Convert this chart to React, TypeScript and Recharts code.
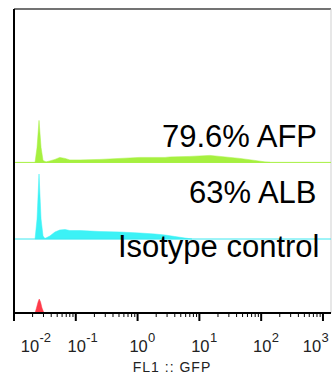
import React from 'react';
import { ComposedChart, Area, XAxis, YAxis, ReferenceLine } from 'recharts';

// FL1 :: GFP histograms, staggered overlay (bottom → top)
const ISO_X = [0.0219, 0.0231, 0.0245, 0.0256, 0.0269, 0.0284, 0.0306];
const ISO_COUNTS = [0, 5, 11, 14, 11, 5, 0];

const ALB_X = [
  0.0219, 0.0236, 0.0254, 0.0274, 0.0295, 0.0317, 0.038, 0.046, 0.055, 0.067, 0.08,
  0.117, 0.17, 0.246, 0.52, 1.09, 1.91, 2.78, 4.03, 5.85, 7.6,
];
const ALB_COUNTS = [0, 20, 65, 20, 3, 0.5, 3, 7, 9, 9.5, 8.5, 8.5, 8, 7.5, 7, 6, 5, 4, 2.5, 1, 0];

const AFP_X = [
  0.0219, 0.0236, 0.0254, 0.0274, 0.0295, 0.033, 0.038, 0.046, 0.055, 0.067, 0.08,
  0.117, 0.246, 0.52, 1.09, 1.59, 2.78, 3.34, 7.0, 14.8, 26, 45, 79, 115, 139,
];
const AFP_COUNTS = [
  0, 15, 42, 15, 2, 0.5, 1.5, 3, 5, 4, 2.5, 2.5, 3, 4, 5, 5, 5, 5.5, 6, 7, 5.5, 4, 2, 0.5, 0,
];

const MAJOR_TICKS = [0.01, 0.1, 1, 10, 100, 1000];
const MAJOR_LABELS = ['-2', '-1', '0', '1', '2', '3'];
const MINOR_STEPS = [2, 3, 4, 5, 6, 7, 8, 9];

const LABELS = ['79.6% AFP', '63% ALB', 'Isotype control'];
const X_TITLE = 'FL1 :: GFP';

const ISO_BASE = 0;
const ALB_BASE = 74;
const AFP_BASE = 150.6;

const ALL_TICKS = [
  ...MAJOR_TICKS,
  ...MAJOR_TICKS.slice(0, -1).flatMap((m) => MINOR_STEPS.map((s) => +(m * s).toPrecision(3))),
].sort((a, b) => a - b);

const build = (xs: number[], counts: number[], base: number) =>
  xs.map((x, i) => ({ x, band: [base, base + counts[i]] }));

const isoData = build(ISO_X, ISO_COUNTS, ISO_BASE);
const albData = build(ALB_X, ALB_COUNTS, ALB_BASE);
const afpData = build(AFP_X, AFP_COUNTS, AFP_BASE);

const FONT = '"Liberation Sans", Arial, sans-serif';

const AxisTick = (props: any) => {
  const { x, y, payload } = props;
  const idx = MAJOR_TICKS.indexOf(payload.value);
  if (idx < 0) {
    return <line x1={x} x2={x} y1={y} y2={y + 4} stroke="#000" strokeWidth={1} />;
  }
  const cx = Math.min(Math.max(x + 1, 30), 312);
  return (
    <g>
      <line x1={x} x2={x} y1={y} y2={y + 8} stroke="#000" strokeWidth={2} />
      <text x={cx} y={y + 39} textAnchor="middle" fontSize={16.5} fill="#222" fontFamily={FONT}>
        10
      </text>
      <text x={cx + 9.5} y={y + 29} textAnchor="start" fontSize={13} fill="#222" fontFamily={FONT}>
        {MAJOR_LABELS[idx]}
      </text>
    </g>
  );
};

export default function App() {
  return (
    <div style={{ position: 'absolute', left: 0, top: 0, width: 332, height: 379, background: '#fff' }}>
      <ComposedChart width={332} height={379} margin={{ top: 9, right: 1, left: 14, bottom: 6 }}>
        <XAxis
          dataKey="x"
          type="number"
          scale="log"
          domain={[0.01, 1349]}
          allowDataOverflow
          ticks={ALL_TICKS}
          interval={0}
          tickSize={0}
          tickMargin={0}
          tickLine={false}
          axisLine={{ stroke: '#000', strokeWidth: 2 }}
          tick={(p: any) => <AxisTick {...p} />}
          height={60}
        />
        <YAxis type="number" domain={[0, 304]} allowDataOverflow hide />
        <ReferenceLine y={304} stroke="#444" strokeWidth={1.5} />
        <ReferenceLine x={1349} stroke="#cfcfcf" strokeWidth={1} />
        <Area
          data={isoData}
          dataKey="band"
          type="linear"
          fill="#ff3b4a"
          fillOpacity={1}
          stroke="#ff3b4a"
          strokeWidth={0.5}
          isAnimationActive={false}
        />
        <Area
          data={albData}
          dataKey="band"
          type="linear"
          fill="#3cf2f6"
          fillOpacity={1}
          stroke="#3cf2f6"
          strokeWidth={0.5}
          isAnimationActive={false}
        />
        <Area
          data={afpData}
          dataKey="band"
          type="linear"
          fill="#a6f040"
          fillOpacity={1}
          stroke="#a6f040"
          strokeWidth={0.5}
          isAnimationActive={false}
        />
        <ReferenceLine y={ALB_BASE} stroke="#3ce8f0" strokeWidth={1} />
        <ReferenceLine y={AFP_BASE} stroke="#a6f040" strokeWidth={1} />
        <ReferenceLine x={0.01} stroke="#000" strokeWidth={2} />
      </ComposedChart>
      <svg
        width={332}
        height={379}
        style={{ position: 'absolute', left: 0, top: 0, pointerEvents: 'none' }}
        fontFamily={FONT}
      >
        <text x={317} y={146.5} textAnchor="end" fontSize={31} fill="#000">
          {LABELS[0]}
        </text>
        <text x={316.5} y={202.7} textAnchor="end" fontSize={31} fill="#000">
          {LABELS[1]}
        </text>
        <text x={319.5} y={257.3} textAnchor="end" fontSize={31} fill="#000">
          {LABELS[2]}
        </text>
        <text x={172} y={372} textAnchor="middle" fontSize={14} letterSpacing={1} fill="#222">
          {X_TITLE}
        </text>
      </svg>
    </div>
  );
}
